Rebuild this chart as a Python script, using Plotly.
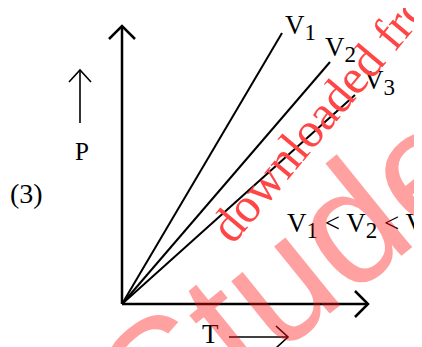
import plotly.graph_objects as go

# isochores: end points of each line (T, P) measured from the origin
T_end = [160, 208, 233]
P_end = [271, 242, 209]
subs = ['1', '2', '3']

# axis lengths
T_axis = 246
P_axis = 278

serif = 'Liberation Serif'


def vlab(n):
    # V with a near full size subscript, as in the scanned figure
    return 'V<sub><span style="font-size:23px">%s</span></sub>' % n


def head(tip_x, tip_y, back_x, back_y, side_x, side_y):
    # open V arrow head: arm - tip - arm
    xs = [tip_x - back_x + side_x, tip_x, tip_x - back_x - side_x]
    ys = [tip_y - back_y + side_y, tip_y, tip_y - back_y - side_y]
    return xs, ys


fig = go.Figure()

# the three straight lines
for t, p in zip(T_end, P_end):
    fig.add_trace(go.Scatter(x=[0, t], y=[0, p], mode='lines',
                             line=dict(color='black', width=2)))

# main axes
fig.add_trace(go.Scatter(x=[0, T_axis], y=[0, 0], mode='lines',
                         line=dict(color='black', width=2.5)))
fig.add_trace(go.Scatter(x=[0, 0], y=[0, P_axis], mode='lines',
                         line=dict(color='black', width=2.5)))
hx, hy = head(T_axis, 0, 13, 0, 0, 13)
fig.add_trace(go.Scatter(x=hx, y=hy, mode='lines', line=dict(color='black', width=2.5)))
hx, hy = head(0, P_axis, 0, 13, 13, 0)
fig.add_trace(go.Scatter(x=hx, y=hy, mode='lines', line=dict(color='black', width=2.5)))

# small P and T arrows
fig.add_trace(go.Scatter(x=[-42, -42], y=[181, 234], mode='lines',
                         line=dict(color='black', width=1.6)))
hx, hy = head(-42, 234, 0, 12, 11, 0)
fig.add_trace(go.Scatter(x=hx, y=hy, mode='lines', line=dict(color='black', width=1.6)))
fig.add_trace(go.Scatter(x=[107, 166], y=[-33, -33], mode='lines',
                         line=dict(color='black', width=1.6)))
hx, hy = head(166, -33, 12, 0, 0, 11)
fig.add_trace(go.Scatter(x=hx, y=hy, mode='lines', line=dict(color='black', width=1.6)))

ann = []
ann.append(dict(x=-96, y=111, text='(3)', font=dict(size=28)))
ann.append(dict(x=-40, y=153, text='P', font=dict(size=25)))
ann.append(dict(x=88, y=-30, text='T', font=dict(size=27)))
lab_pos = [(161, 277), (201, 255), (240, 222)]
for (lx, ly), n in zip(lab_pos, subs):
    ann.append(dict(x=lx, y=ly, text=vlab(n), xanchor='left', font=dict(size=27)))
ann.append(dict(x=163, y=79, xanchor='left', font=dict(size=27),
                text=' < '.join(vlab(n) for n in subs)))

for a in ann:
    a.update(xref='x', yref='y', showarrow=False)
    a['font'].update(family=serif, color='black')

# watermark (anchor kept inside the axis range, else plotly hides it)
ann.append(dict(x=209, y=202, xref='x', yref='y', showarrow=False, textangle=-50,
                text='downloaded from', font=dict(family=serif, size=49, color='#ff4545')))
ann.append(dict(x=290, y=148, xshift=22, xref='x', yref='y', showarrow=False, textangle=-39,
                text='Studentbro', font=dict(family='Liberation Sans', size=165,
                                            color='rgba(255,20,20,0.4)')))

# the page keeps an 8px body margin, so the figure covers 414x339 of the window
fig.update_layout(
    width=414, height=339,
    margin=dict(l=0, r=0, t=0, b=0),
    paper_bgcolor='white', plot_bgcolor='white',
    showlegend=False,
    annotations=ann,
    xaxis=dict(range=[-114, 300], visible=False, fixedrange=True),
    yaxis=dict(range=[-43, 296], visible=False, fixedrange=True),
)

fig.write_html('out.html')
